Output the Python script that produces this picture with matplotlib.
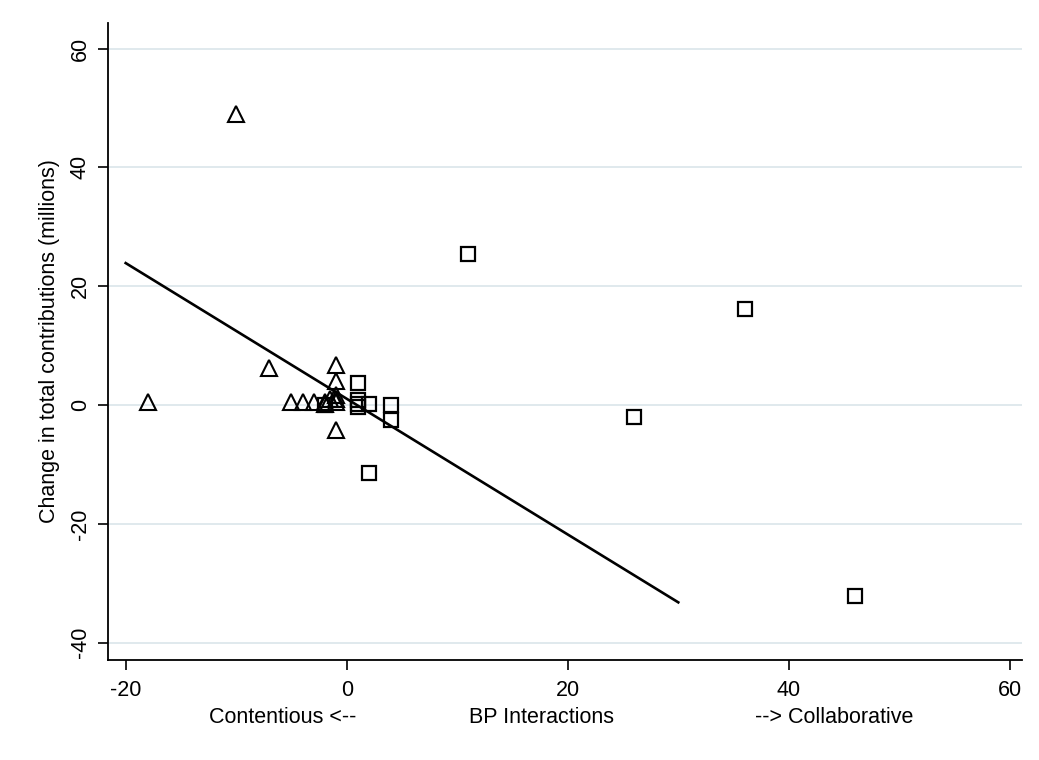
import matplotlib
matplotlib.use("Agg")
import matplotlib.pyplot as plt

plt.rcParams['font.family'] = ['Liberation Sans', 'DejaVu Sans']

# Contentious cases (triangles)
tri_x = [-10, -18, -7, -5, -4, -3, -2, -2, -1.5, -1, -1, -1, -1, -1, -1]
tri_y = [49, 0.6, 6.2, 0.6, 0.5, 0.5, 0.5, 0.2, 1.0, 6.7, 4.0, 1.7, 1.0, 0.5, -4.2]

# Collaborative cases (squares)
sq_x = [11, 36, 26, 46, 2, 1, 1, 1, 1, 2, 4, 4, -2]
sq_y = [25.4, 16.2, -2.0, -32.2, -11.4, 3.7, 0.8, 0.2, -0.4, 0.1, 0.0, -2.5, 0.0]

# Fitted line endpoints
fit_x = [-20, 30]
fit_y = [23.9, -33.2]

xticks = [-20, 0, 20, 40, 60]
yticks = [-40, -20, 0, 20, 40, 60]

fig = plt.figure(figsize=(10.39, 7.6), dpi=100)
ax = fig.add_axes([108/1039, 100/760, (1022-108)/1039, (660-23)/760])

ax.set_xlim(-21.6, 61.1)
ax.set_ylim(-42.9, 64.3)

for yt in yticks:
    ax.axhline(yt, color='#dde7ec', lw=1.3, zorder=0)

ax.plot(fit_x, fit_y, color='black', lw=1.9, zorder=2)
ax.plot(tri_x, tri_y, linestyle='none', marker='^', markersize=11.5,
        markerfacecolor='none', markeredgecolor='black', markeredgewidth=1.5, zorder=3)
ax.plot(sq_x, sq_y, linestyle='none', marker='s', markersize=10,
        markerfacecolor='none', markeredgecolor='black', markeredgewidth=1.6, zorder=3)

ax.spines['top'].set_visible(False)
ax.spines['right'].set_visible(False)
ax.spines['left'].set_linewidth(1.3)
ax.spines['bottom'].set_linewidth(1.3)

ax.set_xticks(xticks)
ax.set_yticks(yticks)
ax.set_xticklabels([str(v) for v in xticks], fontsize=15.5)
ax.set_yticklabels([str(v) for v in yticks], fontsize=15.5, rotation=90, va='center')
ax.tick_params(axis='both', direction='out', length=7.5, width=1.2, color='black')
ax.tick_params(axis='x', pad=7)
ax.tick_params(axis='y', pad=5)

ax.set_ylabel('Change in total contributions (millions)', fontsize=15.5, labelpad=7)

for txt, xf in [('Contentious <--', 0.191), ('BP Interactions', 0.474), ('--> Collaborative', 0.795)]:
    ax.text(xf, -0.09, txt, transform=ax.transAxes, ha='center', va='center', fontsize=15.5)

fig.savefig('out.png', dpi=100, facecolor='white')
